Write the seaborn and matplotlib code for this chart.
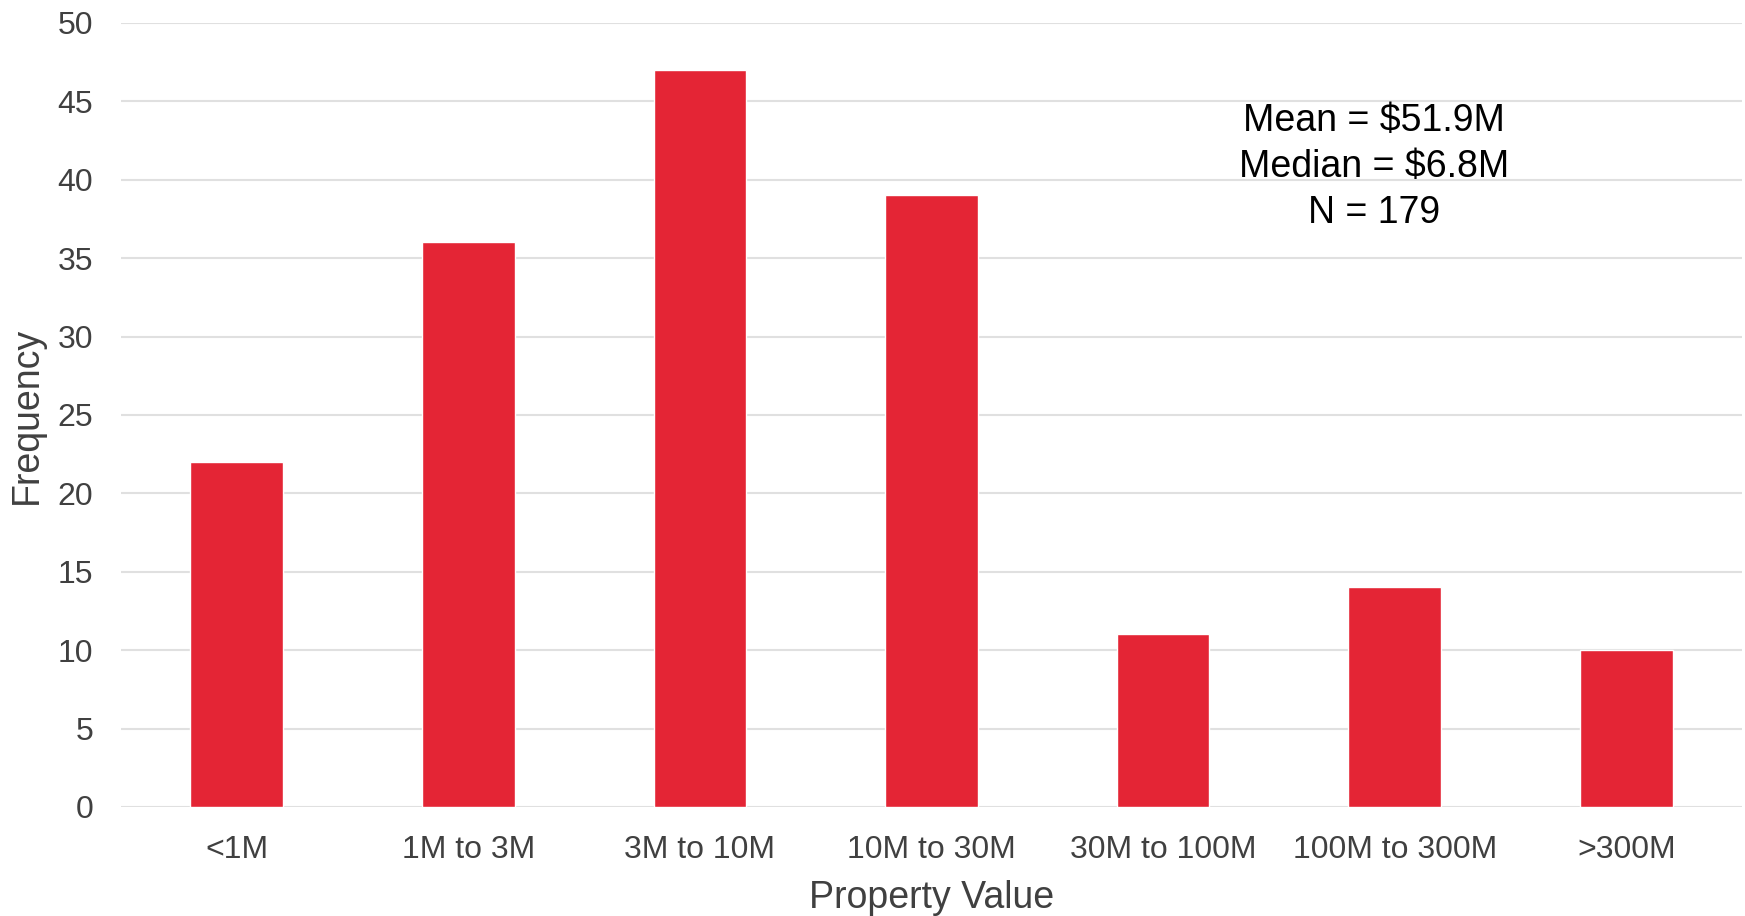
import numpy as np
import pandas as pd
import matplotlib
matplotlib.use('Agg')
import matplotlib.pyplot as plt
import seaborn as sns

# Data
categories = ['<1M', '1M to 3M', '3M to 10M', '10M to 30M', '30M to 100M', '100M to 300M', '>300M']
frequency = [22, 36, 47, 39, 11, 14, 10]
stats_text = 'Mean = $51.9M\nMedian = $6.8M\nN = 179'

sns.set_theme(style='white')
plt.rcParams['font.family'] = ['Liberation Sans', 'DejaVu Sans']

df = pd.DataFrame({'Property Value': categories, 'Frequency': frequency})

fig = plt.figure(figsize=(17.45, 9.16), dpi=100)
ax = fig.add_axes([0.0693, 0.119, 0.929, 0.856])

sns.barplot(data=df, x='Property Value', y='Frequency', color='#E42535',
			width=0.4, saturation=1, ax=ax, zorder=3)

ax.set_ylim(0, 50)
ax.set_xlim(-0.5, 6.5)
ax.set_yticks(np.arange(0, 51, 5))
ax.yaxis.grid(True, color='#E0E0E0', linewidth=1.5, zorder=0)
ax.set_axisbelow(True)
sns.despine(ax=ax, left=True, bottom=True)
ax.tick_params(axis='both', length=0, labelsize=23, colors='#404040')
ax.tick_params(axis='x', pad=20)
ax.tick_params(axis='y', pad=20)
ax.set_xlabel('Property Value', fontsize=27, color='#404040', labelpad=11)
ax.set_ylabel('Frequency', fontsize=27, color='#404040')
ax.yaxis.set_label_coords(-0.0472, 0.5)

ax.text(0.773, 0.816, stats_text, transform=ax.transAxes, ha='center', va='center',
		fontsize=27, color='black', linespacing=1.35)

plt.savefig('out.png', dpi=100)
